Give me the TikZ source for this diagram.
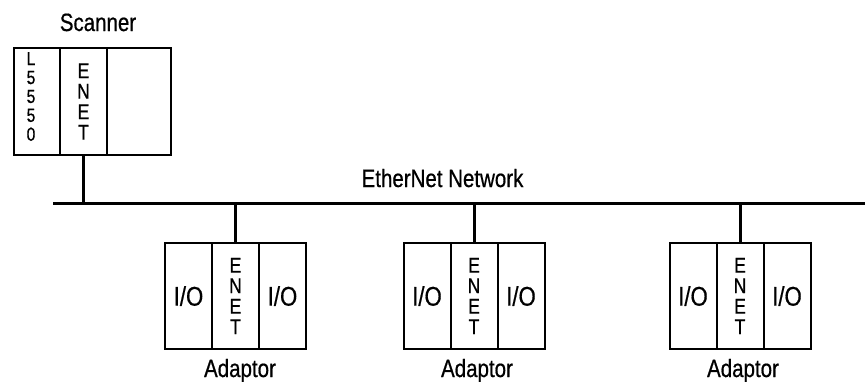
\documentclass[tikz,border=0pt]{standalone}
\usepackage{fontspec}
\setmainfont{Liberation Sans}[FakeStretch=0.82,FakeBold=0.6]
\usetikzlibrary{positioning}
\tikzset{
  >=latex,
}
\tikzstyle{slot}=[draw,line width=2pt,outer sep=0pt,inner sep=0pt,
  minimum width=47pt,minimum height=106pt,anchor=center]
\tikzstyle{bus}=[line width=3pt]
\tikzstyle{io}=[font=\fontsize{27}{28}\selectfont]
\tikzstyle{enet}=[align=center,font=\fontsize{21.5}{20.5}\selectfont]
\tikzstyle{caption}=[anchor=base,font=\fontsize{25}{26}\selectfont]

\begin{document}
\begin{tikzpicture}[x=1pt,y=-1pt]
    \useasboundingbox (0,0) rectangle (865,381);

    % scanner chassis
    \node[slot,minimum height=107pt,minimum width=46pt] (sccpu) at (37,101.5) {};
    \node[slot,enet,minimum height=107pt,right=0pt of sccpu] (scenet) {E\\N\\E\\T};
    \node[slot,minimum height=107pt,minimum width=64pt,right=0pt of scenet] (scfree) {};
    \node[align=center,font=\fontsize{19}{18.9}\selectfont] (scname) at (31,96.5) {L\\5\\5\\5\\0};
    \node[caption] (sclabel) at (98,31) {Scanner};

    % network
    \coordinate (busL) at (53,203.5);
    \coordinate (busR) at (865,203.5);
    \draw[bus] (busL) -- (busR);
    \node[caption] (netlabel) at (442.5,187) {EtherNet Network};
    \draw[bus] (scenet.south) -- (scenet.south |- busL);

    % adaptors
    \node[slot,io] (aio1) at (188.5,296) {I/O};
    \node[slot,enet,right=0pt of aio1] (aenet) {E\\N\\E\\T};
    \node[slot,io,right=0pt of aenet] (aio2) {I/O};
    \node[caption] (alabel) at (240,377) {Adaptor};

    \node[slot,io] (bio1) at (427,296) {I/O};
    \node[slot,enet,right=0pt of bio1] (benet) {E\\N\\E\\T};
    \node[slot,io,right=0pt of benet] (bio2) {I/O};
    \node[caption] (blabel) at (477,377) {Adaptor};

    \node[slot,io] (cio1) at (693,296) {I/O};
    \node[slot,enet,right=0pt of cio1] (cenet) {E\\N\\E\\T};
    \node[slot,io,right=0pt of cenet] (cio2) {I/O};
    \node[caption] (clabel) at (743,377) {Adaptor};

    \draw[bus] (aenet.north) -- (aenet.north |- busL);
    \draw[bus] (benet.north) -- (benet.north |- busL);
    \draw[bus] (cenet.north) -- (cenet.north |- busL);
  \end{tikzpicture}
\end{document}
